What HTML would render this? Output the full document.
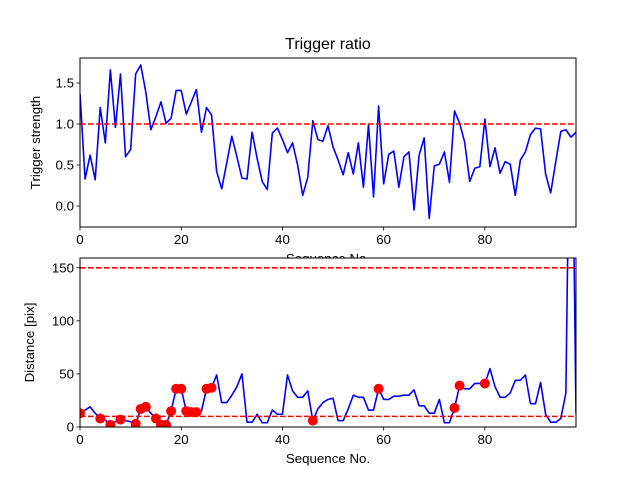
<!DOCTYPE html>
<html><head><meta charset="utf-8"><style>body{margin:0;background:#fff}svg{display:block;font-family:"Liberation Sans","DejaVu Sans",sans-serif}</style></head>
<body>
<svg id="fig" width="640" height="480" viewBox="0 0 640 480"></svg>
<script>
const seqIndex = Array.from({length: 99}, (_, i) => i);
const triggerValues = [1.37,0.33,0.62,0.32,1.20,0.77,1.66,0.96,1.61,0.60,0.69,1.61,1.72,1.39,0.93,1.09,1.27,1.01,1.07,1.41,1.41,1.12,1.27,1.42,0.90,1.20,1.11,0.42,0.21,0.53,0.85,0.60,0.34,0.33,0.90,0.58,0.30,0.20,0.89,0.95,0.81,0.65,0.77,0.50,0.13,0.35,1.04,0.81,0.79,0.98,0.72,0.56,0.38,0.65,0.39,0.77,0.23,0.99,0.11,1.22,0.27,0.63,0.67,0.23,0.60,0.66,-0.05,0.62,0.83,-0.15,0.49,0.51,0.66,0.29,1.16,1.01,0.78,0.30,0.46,0.48,1.06,0.48,0.71,0.40,0.54,0.51,0.13,0.56,0.66,0.87,0.95,0.94,0.39,0.16,0.54,0.91,0.93,0.84,0.90];
const distanceValues = [13,16,19,13,8,6.5,2,5,7,6,5,3,17,19,13,8,2,2,15,36,36,15,14,14,15,36,37,49,23,23,30,38,50,4.5,4.5,12,4,4,16,12,12,49,34,28,28,34,6,17,23,26,27,6,6,17,30,28,28,16,16,36,26,26,29,29,30,30,35,20,20,13,13,26,4,4,18,39,36,36,41,41,41,55,38,28,28,32,44,44,49,22,22,42,12,4.5,4.5,8,32,400,13];
const markerIdx = [0,4,6,8,11,12,13,15,16,17,18,19,20,21,22,23,25,26,46,59,74,75,80];
const topRef = [1.0];
const botRefs = [150, 10];
const topTicks = [0.0, 0.5, 1.0, 1.5];
const topTickLabels = ["0.0","0.5","1.0","1.5"];
const botTicks = [0, 50, 100, 150];
const xTicks = [0, 20, 40, 60, 80];

const NS = "http://www.w3.org/2000/svg";
const svg = document.getElementById('fig');
function mk(tag, attrs, parent, text) {
  const e = document.createElementNS(NS, tag);
  for (const k in attrs) e.setAttribute(k, attrs[k]);
  if (text !== undefined) e.textContent = text;
  (parent || svg).appendChild(e);
  return e;
}
const L = 80, R = 576, XMAX = 98;
const xs = v => L + (v / XMAX) * (R - L);

function axes(cfg) {
  const g = mk('g', {});
  
  
  const ys = v => cfg.bot - (v - cfg.ymin) / (cfg.ymax - cfg.ymin) * (cfg.bot - cfg.top);
  const bg = mk('rect', {x: L, y: cfg.top, width: R - L, height: cfg.bot - cfg.top, fill: '#fff'}, g);
  
  
  const cid = cfg.name + '-clip';
  const cp = mk('clipPath', {id: cid}, g);
  mk('rect', {x: L, y: cfg.top, width: R - L, height: cfg.bot - cfg.top}, cp);
  const plot = mk('g', {'clip-path': 'url(#' + cid + ')'}, g);
  const pts = cfg.values.map((v, i) => xs(seqIndex[i]).toFixed(2) + ',' + ys(v).toFixed(2)).join(' ');
  const line = mk('polyline', {points: pts, fill: 'none', stroke: '#0000ff', 'stroke-width': 1.6, 'stroke-linejoin': 'round'}, plot);
  
  
  cfg.refs.forEach(r => {
    const d = mk('line', {x1: L, x2: R, y1: ys(r), y2: ys(r), stroke: '#ff0000', 'stroke-width': 1.6, 'stroke-dasharray': '5.6,2.4'}, plot);
    
    
  });
  if (cfg.markers) cfg.markers.forEach(i => {
    const c = mk('circle', {cx: xs(seqIndex[i]), cy: ys(cfg.values[i]), r: 5, fill: '#ff0000'}, plot);
    
    
  });
  const fr = mk('rect', {x: L, y: cfg.top, width: R - L, height: cfg.bot - cfg.top, fill: 'none', stroke: '#000', 'stroke-width': 1}, g);
  
  
  cfg.yticks.forEach((t, k) => {
    const y = ys(t);
    mk('line', {x1: L - 3.5, x2: L, y1: y, y2: y, stroke: '#000', 'stroke-width': 0.8}, g);
    const tl = mk('text', {x: L - 6, y: y + 4.5, 'text-anchor': 'end', 'font-size': 13.3}, g, cfg.ylabels[k]);
    
    
  });
  xTicks.forEach(t => {
    const x = xs(t);
    mk('line', {x1: x, x2: x, y1: cfg.bot, y2: cfg.bot + 3.5, stroke: '#000', 'stroke-width': 0.8}, g);
    const tl = mk('text', {x: x, y: cfg.bot + 17, 'text-anchor': 'middle', 'font-size': 13.3}, g, String(t));
    
    
  });
  const xl = mk('text', {x: 328, y: cfg.bot + 36, 'text-anchor': 'middle', 'font-size': 13.3}, g, 'Sequence No.');
  
  
  const yc = (cfg.top + cfg.bot) / 2;
  const yl = mk('text', {x: cfg.ylx, y: yc, 'text-anchor': 'middle', 'font-size': 13.3, transform: 'rotate(-90 ' + cfg.ylx + ' ' + yc + ')'}, g, cfg.ytitle);
  
  
  return g;
}
const title = mk('text', {x: 328, y: 49, 'text-anchor': 'middle', 'font-size': 16}, svg, 'Trigger ratio');


axes({name: 'trigger-axes', top: 58, bot: 227, ymin: -0.256, ymax: 1.805, values: triggerValues, refs: topRef, yticks: topTicks, ylabels: topTickLabels, ylx: 40, ytitle: 'Trigger strength'});
axes({name: 'distance-axes', top: 258, bot: 427, ymin: 0, ymax: 159.2, values: distanceValues, refs: botRefs, yticks: botTicks, ylabels: botTicks.map(String), ylx: 34, ytitle: 'Distance [pix]', markers: markerIdx});
</script>
</body></html>
